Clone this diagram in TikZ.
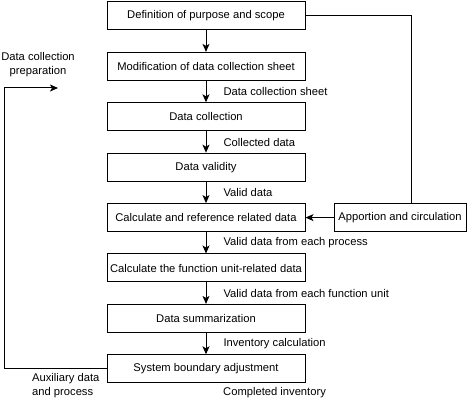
\documentclass[tikz,border=0pt]{standalone}
\usepackage{fontspec}
\setmainfont{Liberation Sans}
\usetikzlibrary{positioning,arrows.meta}

\begin{document}
\begin{tikzpicture}[x=1pt,y=1pt,on grid,
		every node/.style={font=\fontsize{11.2}{14}\selectfont},
		stage/.style={draw,line width=1pt,minimum width=198pt,minimum height=28pt,inner sep=0pt},
		flow/.style={-{Stealth[length=8pt,width=7pt,inset=2pt]},line width=1pt},
		note/.style={anchor=west,inner sep=0pt,xshift=17pt}
	]
	\useasboundingbox (0,0) rectangle (472,-401);
	% Main chain of stages
	\node[stage] (purpose) at (206,-16) {Definition of purpose and scope};
	\node[stage,below=50.4pt of purpose] (sheet) {Modification of data collection sheet};
	\node[stage,below=50.4pt of sheet] (collect) {Data collection};
	\node[stage,below=50.4pt of collect] (validity) {Data validity};
	\node[stage,below=50.4pt of validity] (calcref) {Calculate and reference related data};
	\node[stage,below=50.4pt of calcref] (calcfu) {Calculate the function unit-related data};
	\node[stage,below=50.4pt of calcfu] (summary) {Data summarization};
	\node[stage,below=50.4pt of summary] (boundary) {System boundary adjustment};
	\node[stage,minimum width=132pt,right=194pt of calcref] (apport) {Apportion and circulation};

	% Arrows between stages
	\draw[flow] (purpose) -- (sheet);
	\draw[flow] (sheet) -- (collect) node[note,midway] (lsheet) {Data collection sheet};
	\draw[flow] (collect) -- (validity) node[note,midway] (lcollect) {Collected data};
	\draw[flow] (validity) -- (calcref) node[note,midway] (lvalid) {Valid data};
	\draw[flow] (calcref) -- (calcfu) node[note,midway] (lprocess) {Valid data from each process};
	\draw[flow] (calcfu) -- (summary) node[note,midway] (lunit) {Valid data from each function unit};
	\draw[flow] (summary) -- (boundary) node[note,midway] (linv) {Inventory calculation};
	\node[anchor=north west,inner sep=0pt] (lcomplete) at ([xshift=17pt,yshift=-4pt]boundary.south) {Completed inventory};

	% Apportion loop on the right
	\draw[line width=1pt] (purpose.east) -| ([xshift=11pt]apport.north);
	\draw[flow] (apport) -- (calcref);

	% Feedback on the left
	\coordinate (prepend) at (58,-88);
	\draw[flow] (boundary.west) -- ++(-102,0) |- (prepend);
	\node[align=center,inner sep=0pt] (lprep) at (38,-65) {Data collection\\preparation};
	\node[align=left,anchor=north west,inner sep=0pt] (laux) at (32,-373) {Auxiliary data\\and process};
\end{tikzpicture}
\end{document}
